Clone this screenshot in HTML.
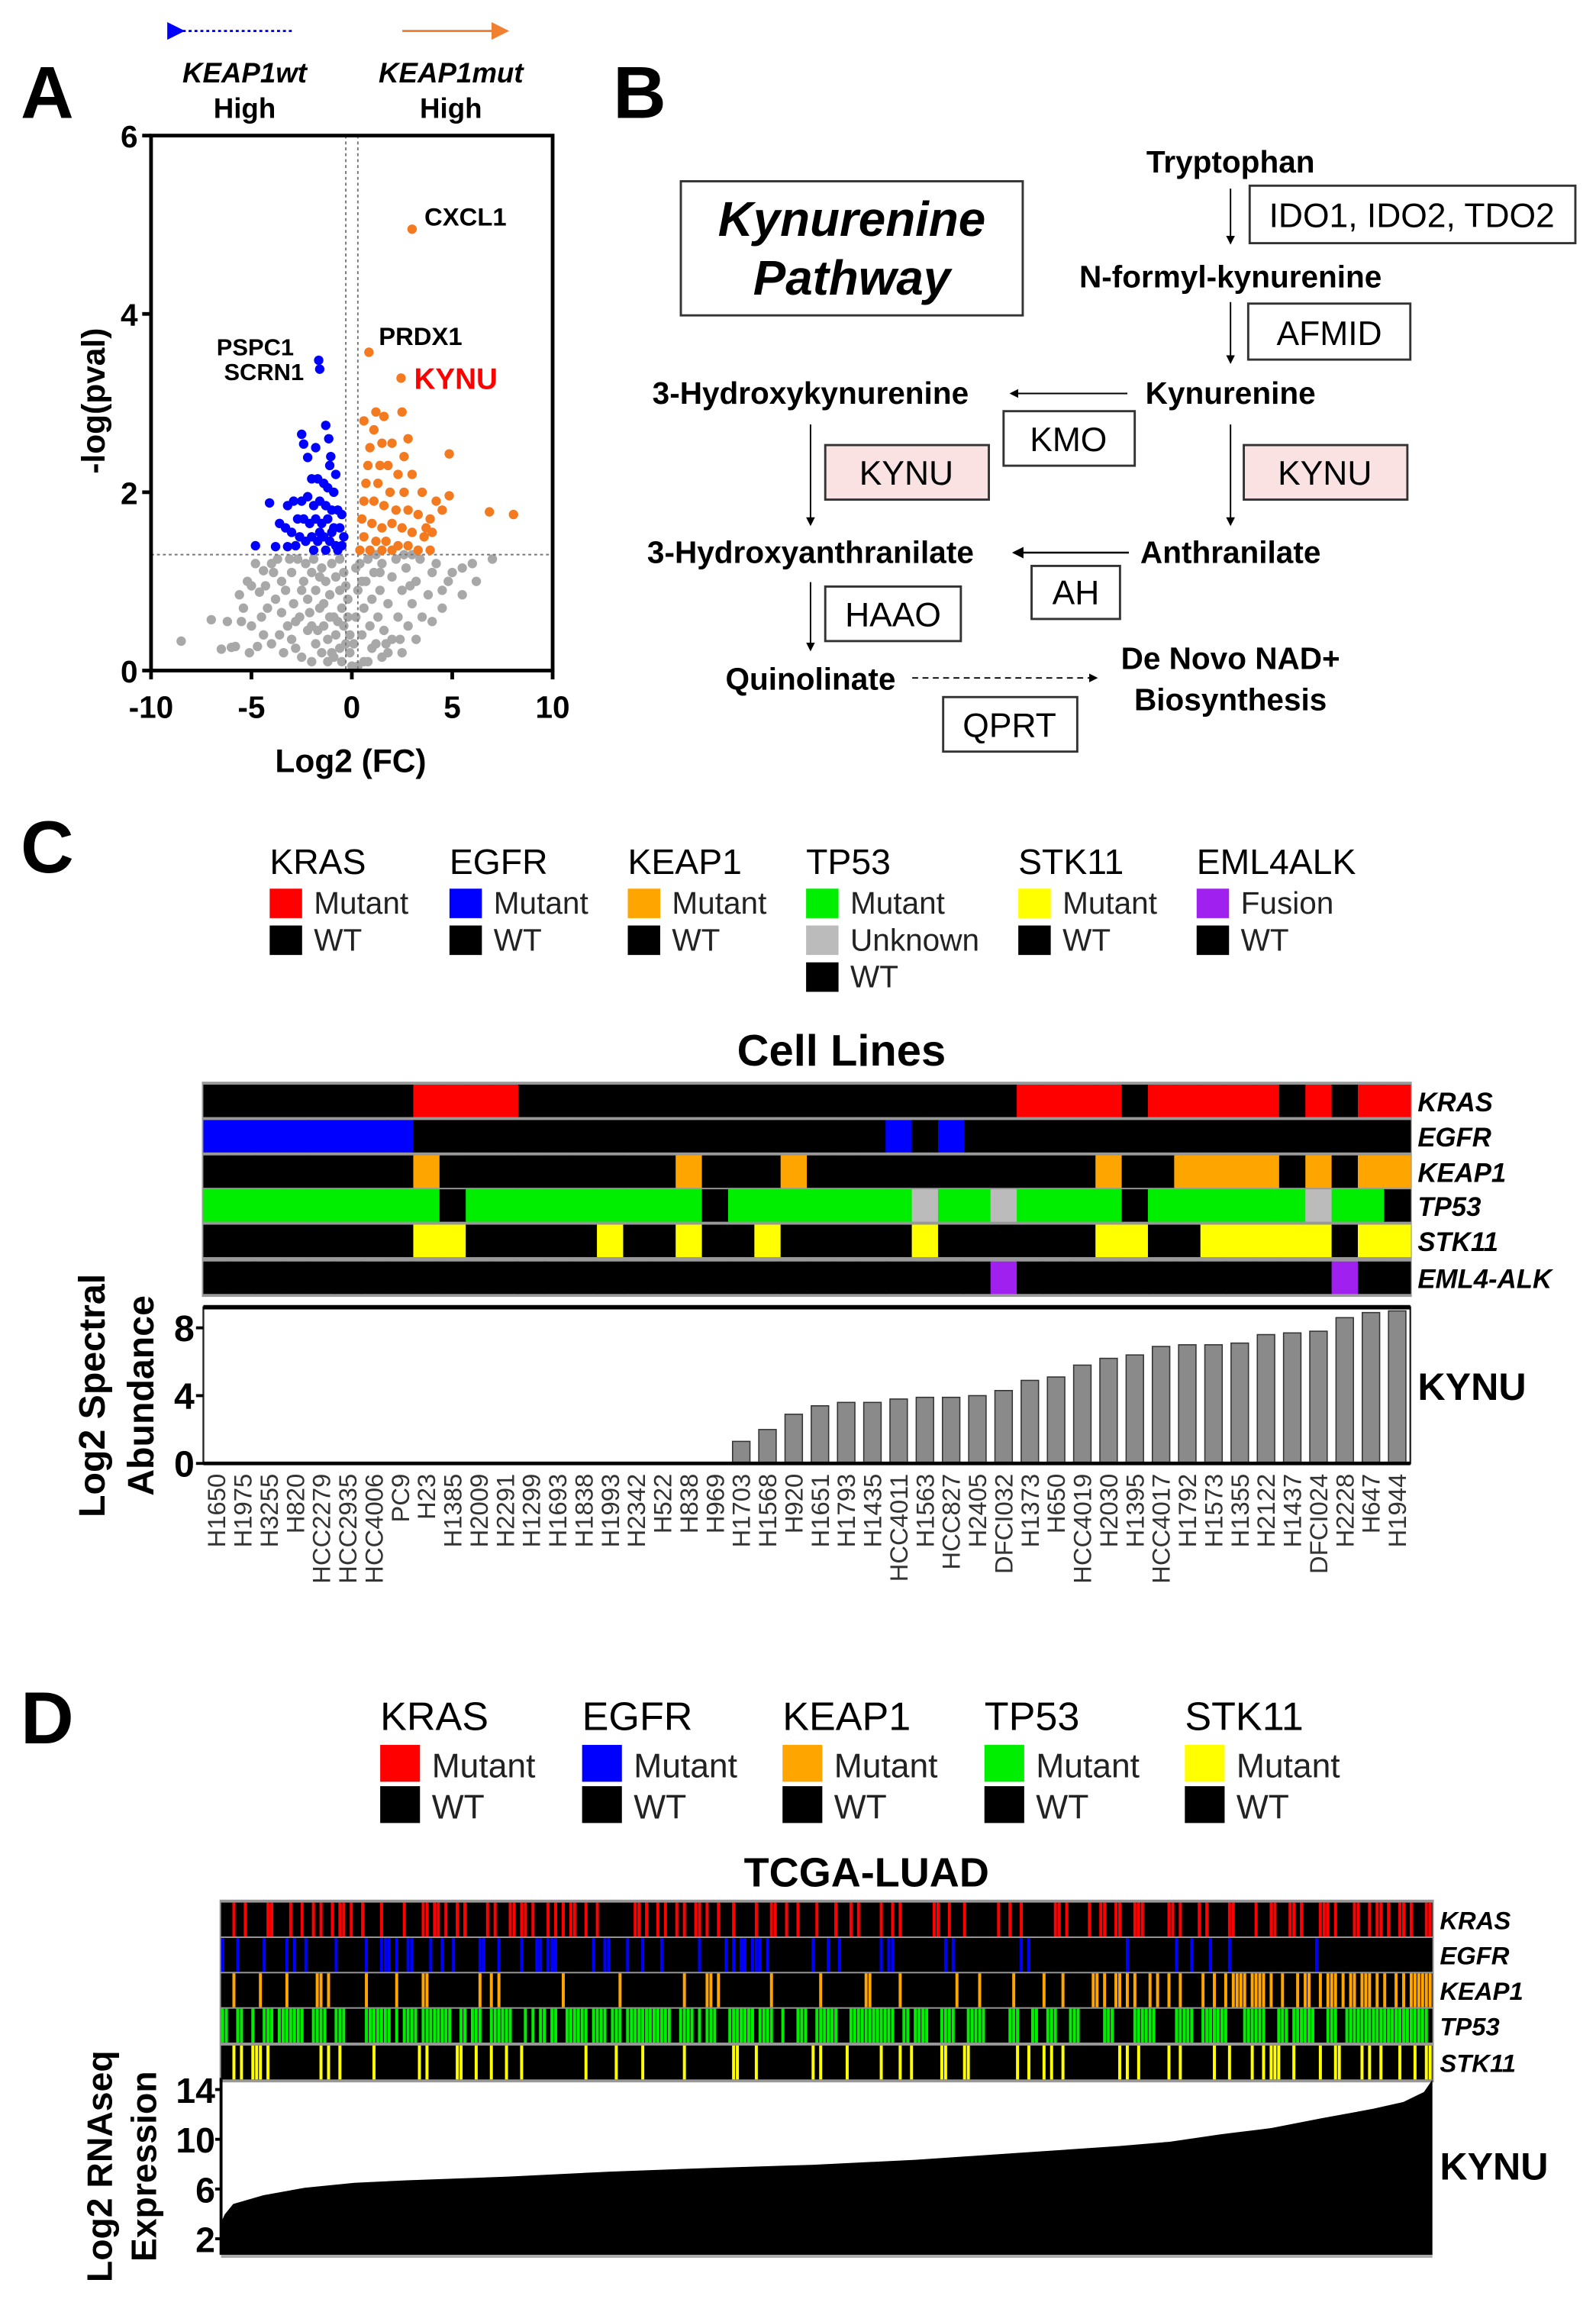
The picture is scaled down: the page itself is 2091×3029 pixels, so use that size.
<!DOCTYPE html>
<html><head><meta charset="utf-8"><title>KYNU figure</title>
<style>
html,body{margin:0;padding:0;background:#fff;}
svg{display:block;}
text{font-family:"Liberation Sans",Arial,sans-serif;}
.b{font-weight:bold;}
</style></head>
<body>
<svg id="fig" width="2091" height="3029" viewBox="0 0 1083 1568.8" preserveAspectRatio="none" xmlns="http://www.w3.org/2000/svg">
<defs>
<marker id="ahB" markerWidth="8" markerHeight="8" refX="1" refY="4" orient="auto"><path d="M8,0 L0,4 L8,8 z" fill="#0000ff"/></marker>
<marker id="ahO" markerWidth="8" markerHeight="8" refX="7" refY="4" orient="auto"><path d="M0,0 L8,4 L0,8 z" fill="#f08030"/></marker>
<marker id="ahK" markerWidth="6" markerHeight="6" refX="5" refY="3" orient="auto"><path d="M0,0 L6,3 L0,6 z" fill="#000"/></marker>
</defs>

<!-- Panel A -->
<text x="14" y="80" font-size="50" class="b">A</text>
<line x1="198" y1="21" x2="124" y2="21" stroke="#0000ff" stroke-width="1.5" stroke-dasharray="2,2" marker-end="url(#ahB)"/>
<line x1="273" y1="21" x2="344" y2="21" stroke="#f08030" stroke-width="1.5" marker-end="url(#ahO)"/>
<text x="166" y="56" font-size="19" class="b" font-style="italic" text-anchor="middle">KEAP1wt</text>
<text x="166" y="80" font-size="19" class="b" text-anchor="middle">High</text>
<text x="306" y="56" font-size="19" class="b" font-style="italic" text-anchor="middle">KEAP1mut</text>
<text x="306" y="80" font-size="19" class="b" text-anchor="middle">High</text>
<g id="volcano"></g>

<!-- Panel B -->
<text x="416" y="80" font-size="50" class="b">B</text>
<g font-size="21">
<rect x="462" y="123" width="232" height="91" fill="none" stroke="#333" stroke-width="1.5"/>
<text x="578" y="160" font-size="33" class="b" font-style="italic" text-anchor="middle">Kynurenine</text>
<text x="578" y="200" font-size="33" class="b" font-style="italic" text-anchor="middle">Pathway</text>
<text x="835" y="117" class="b" text-anchor="middle">Tryptophan</text>
<line x1="835" y1="128" x2="835" y2="165" stroke="#000" marker-end="url(#ahK)"/>
<rect x="848" y="126" width="221" height="39" fill="#fff" stroke="#333" stroke-width="1.5"/>
<text x="958" y="154" font-size="23" text-anchor="middle">IDO1, IDO2, TDO2</text>
<text x="835" y="195" class="b" text-anchor="middle">N-formyl-kynurenine</text>
<line x1="835" y1="205" x2="835" y2="246" stroke="#000" marker-end="url(#ahK)"/>
<rect x="847" y="206" width="110" height="38" fill="#fff" stroke="#333" stroke-width="1.5"/>
<text x="902" y="234" font-size="23" text-anchor="middle">AFMID</text>
<text x="835" y="274" class="b" text-anchor="middle">Kynurenine</text>
<text x="550" y="274" class="b" text-anchor="middle">3-Hydroxykynurenine</text>
<line x1="765" y1="267" x2="686" y2="267" stroke="#000" marker-end="url(#ahK)"/>
<rect x="681" y="279" width="89" height="37" fill="#fff" stroke="#333" stroke-width="1.5"/>
<text x="725" y="306" font-size="23" text-anchor="middle">KMO</text>
<line x1="550" y1="288" x2="550" y2="356" stroke="#000" marker-end="url(#ahK)"/>
<line x1="835" y1="288" x2="835" y2="356" stroke="#000" marker-end="url(#ahK)"/>
<rect x="560" y="302" width="111" height="37" fill="#fbe2e2" stroke="#333" stroke-width="1.5"/>
<text x="615" y="329" font-size="23" text-anchor="middle">KYNU</text>
<rect x="844" y="302" width="111" height="37" fill="#fbe2e2" stroke="#333" stroke-width="1.5"/>
<text x="899" y="329" font-size="23" text-anchor="middle">KYNU</text>
<text x="550" y="382" class="b" text-anchor="middle">3-Hydroxyanthranilate</text>
<text x="835" y="382" class="b" text-anchor="middle">Anthranilate</text>
<line x1="766" y1="375" x2="688" y2="375" stroke="#000" stroke-width="1.3" marker-end="url(#ahK)"/>
<rect x="700" y="384" width="60" height="36" fill="#fff" stroke="#333" stroke-width="1.5"/>
<text x="730" y="410" font-size="23" text-anchor="middle">AH</text>
<line x1="550" y1="395" x2="550" y2="441" stroke="#000" marker-end="url(#ahK)"/>
<rect x="560" y="398" width="92" height="37" fill="#fff" stroke="#333" stroke-width="1.5"/>
<text x="606" y="425" font-size="23" text-anchor="middle">HAAO</text>
<text x="550" y="468" class="b" text-anchor="middle">Quinolinate</text>
<line x1="619" y1="460" x2="744" y2="460" stroke="#000" stroke-dasharray="4,3" marker-end="url(#ahK)"/>
<text x="835" y="454" class="b" text-anchor="middle">De Novo NAD+</text>
<text x="835" y="482" class="b" text-anchor="middle">Biosynthesis</text>
<rect x="640" y="473" width="91" height="37" fill="#fff" stroke="#333" stroke-width="1.5"/>
<text x="685" y="500" font-size="23" text-anchor="middle">QPRT</text>
</g>

<!-- Panel C -->
<text x="14" y="592" font-size="50" class="b">C</text>
<g id="legendC"></g>
<text x="571" y="723" font-size="30" class="b" text-anchor="middle">Cell Lines</text>
<g id="heatC"></g>
<g id="barC"></g>

<!-- Panel D -->
<text x="14" y="1183" font-size="50" class="b">D</text>
<g id="legendD"></g>
<text x="588" y="1280" font-size="28" class="b" text-anchor="middle">TCGA-LUAD</text>
<g id="heatD"></g>
<g id="exprD"></g>
</svg>

<script>
// ===== Panel A data =====
const grayX = [-8.5,-7,-6.5,-5.8,-5.5,-5,-4.5,-4.7,-6,-5.4,-5.2,-5.0,-4.6,-4.8,-4.4,-4.0,-3.9,-3.5,-4.2,-3.8,-3.5,-3.2,-3,-2.8,-3.6,-4.0,-2.5,-2,-3.3,-3.0,-2.7,-2.4,-2.2,-2.6,-2.0,-1.8,-1.5,-1.2,-2.9,-2.3,-2.0,-1.8,-1.6,-1.4,-1.2,-1.0,-1.9,-1.5,-1.3,-1.1,-0.9,-0.8,-0.6,-1.0,-0.8,-0.6,-0.5,-0.4,-0.3,-0.6,-0.4,-0.3,-0.2,-0.2,-0.1,-0.1,0,-5.6,-6.2,-3.1,-3.7,-4.3,-2.1,-1.7,-2.5,-3.4,-4.4,-5.1,0.1,0.2,0.3,0.4,0.5,0.6,0.7,0.8,0.9,1.0,1.1,1.2,1.3,1.4,1.5,1.6,1.8,2.0,2.2,2.0,2.3,2.5,2.7,2.8,3.0,3.2,3.4,3.5,3.8,4.0,4.2,4.5,4.8,5.0,5.5,6.0,7.0,4.0,4.5,3.2,2.5,1.5,0.8,0.3,5.5,6.2,1.2,2.6,3.0,1.8,0.5,0.2,-1.4,-0.9,-2.2,-1.6,-0.7,-2.8,1.0,1.7,2.4,0.6,1.4,2.9,-0.5,-1.1];
const grayY = [0.33,0.57,0.24,0.27,0.55,0.5,0.6,0.27,0.26,0.7,1.0,0.95,0.88,1.2,1.12,1.2,1.1,1.0,0.7,0.8,0.65,0.5,0.35,0.25,0.4,0.3,0.15,0.1,0.9,1.1,1.25,1.0,0.8,0.6,0.5,0.3,0.2,0.1,0.75,1.2,1.1,0.9,0.7,0.5,0.35,0.2,1.25,1.15,1.0,0.85,0.6,0.4,0.25,1.2,1.05,0.9,0.7,0.5,0.3,1.25,1.1,0.95,0.8,0.6,0.4,0.2,0.05,0.85,0.55,1.25,1.25,0.95,0.65,0.45,0.9,0.2,0.4,0.2,0.3,0.6,0.9,1.2,0.4,0.7,1.0,1.25,0.5,0.8,1.1,0.3,0.6,0.9,1.2,0.45,0.75,1.05,1.25,0.35,0.6,0.9,1.15,0.5,0.75,1.0,1.25,0.6,0.85,1.1,1.2,0.9,1.0,1.1,1.15,1.2,1.25,0.55,0.7,0.35,0.2,0.15,0.1,0.05,0.85,1.0,1.3,1.3,1.3,0.2,1.0,1.15,0.75,0.15,0.45,1.05,0.55,0.55,0.25,0.3,0.35,0.1,1.1,0.95,0.1,0.6];
const blueX = [-4.8,-4.1,-3.6,-3.2,-3.8,-3.2,-2.5,-2.4,-2.2,-1.8,-1.3,-1.15,-1.05,-1.65,-1.6,-1.1,-2.0,-1.7,-1.4,-1.2,-0.9,-2.5,-2.2,-1.9,-1.6,-1.3,-1.0,-0.7,-2.7,-2.4,-2.1,-1.8,-1.5,-1.2,-0.9,-0.6,-3.0,-2.6,-2.3,-2.0,-1.7,-1.4,-1.1,-0.8,-0.5,-2.8,-1.9,-1.3,-0.7,-0.4,-0.5,-0.8,-3.3,-2.9,-1.0,-1.6];
const blueY = [1.4,1.88,1.65,1.85,1.39,1.39,2.65,2.54,2.39,2.5,2.75,2.6,2.4,3.48,3.38,2.3,2.15,2.15,2.1,2.05,2.0,1.9,1.95,1.85,1.9,1.85,1.8,1.8,1.7,1.7,1.65,1.7,1.65,1.7,1.6,1.6,1.55,1.5,1.45,1.5,1.45,1.5,1.45,1.4,1.4,1.4,1.35,1.35,1.35,1.5,1.75,2.2,1.6,1.9,1.55,1.55];
const orangeX = [3.0,0.85,2.45,4.85,4.85,6.85,8.05,4.2,4.5,0.6,1.2,1.6,1.1,2.8,1.5,2.0,2.6,0.8,1.8,2.3,3.0,0.7,1.3,1.9,2.6,3.5,0.6,1.1,1.6,2.2,2.8,3.3,3.9,0.5,1.0,1.5,2.0,2.5,3.0,3.6,4.0,0.6,1.2,1.7,2.3,2.8,3.3,3.9,0.4,0.9,1.5,2.0,3.7,1.4,2.5,0.9];
const orangeY = [4.95,3.57,3.28,2.43,1.96,1.78,1.75,1.9,1.8,2.8,2.9,2.85,2.7,2.6,2.55,2.55,2.4,2.3,2.3,2.2,2.2,2.1,2.1,2.0,2.0,2.0,1.9,1.9,1.85,1.8,1.8,1.75,1.7,1.7,1.65,1.6,1.65,1.6,1.55,1.5,1.55,1.5,1.45,1.45,1.4,1.4,1.35,1.35,1.35,1.35,1.35,1.35,1.6,2.3,2.9,2.5];
const xTicksA = [-10,-5,0,5,10];
const yTicksA = [0,2,4,6];

// ===== Panel C data =====
const cellLines = ["H1650","H1975","H3255","H820","HCC2279","HCC2935","HCC4006","PC9","H23","H1385","H2009","H2291","H1299","H1693","H1838","H1993","H2342","H522","H838","H969","H1703","H1568","H920","H1651","H1793","H1435","HCC4011","H1563","HCC827","H2405","DFCI032","H1373","H650","HCC4019","H2030","H1395","HCC4017","H1792","H1573","H1355","H2122","H1437","DFCI024","H2228","H647","H1944"];
const kynuCell = [0,0,0,0,0,0,0,0,0,0,0,0,0,0,0,0,0,0,0,0,1.3,2.0,2.9,3.4,3.6,3.6,3.8,3.9,3.9,4.0,4.3,4.9,5.1,5.8,6.2,6.4,6.9,7.0,7.0,7.1,7.6,7.7,7.8,8.6,8.9,9.0];
const krasC  = [0,0,0,0,0,0,0,0,1,1,1,1,0,0,0,0,0,0,0,0,0,0,0,0,0,0,0,0,0,0,0,1,1,1,1,0,1,1,1,1,1,0,1,0,1,1];
const egfrC  = [1,1,1,1,1,1,1,1,0,0,0,0,0,0,0,0,0,0,0,0,0,0,0,0,0,0,1,0,1,0,0,0,0,0,0,0,0,0,0,0,0,0,0,0,0,0];
const keap1C = [0,0,0,0,0,0,0,0,1,0,0,0,0,0,0,0,0,0,1,0,0,0,1,0,0,0,0,0,0,0,0,0,0,0,1,0,0,1,1,1,1,0,1,0,1,1];
const tp53C  = [1,1,1,1,1,1,1,1,1,0,1,1,1,1,1,1,1,1,1,0,1,1,1,1,1,1,1,2,1,1,2,1,1,1,1,0,1,1,1,1,1,1,2,1,1,0];
const stk11C = [0,0,0,0,0,0,0,0,1,1,0,0,0,0,0,1,0,0,1,0,0,1,0,0,0,0,0,1,0,0,0,0,0,0,1,1,0,0,1,1,1,1,1,0,1,1];
const alkC   = [0,0,0,0,0,0,0,0,0,0,0,0,0,0,0,0,0,0,0,0,0,0,0,0,0,0,0,0,0,0,1,0,0,0,0,0,0,0,0,0,0,0,0,1,0,0];
const yTicksC = [0,4,8];

// ===== Panel D data =====
const nTCGA = 320;
const krasD = [3,6,12,13,18,21,24,26,29,31,32,34,37,42,48,53,54,56,57,59,62,64,70,72,76,77,79,80,82,86,88,90,92,93,96,99,109,110,112,115,117,120,122,125,126,128,131,135,141,145,146,149,152,157,162,166,168,174,177,179,188,189,192,196,205,208,211,220,221,223,229,232,233,236,237,241,242,243,250,251,253,258,260,266,267,273,277,278,282,283,285,290,291,292,294,299,300,303,305,306,308,311,312,314,318,319];
const egfrD = [0,4,11,17,19,22,30,38,42,43,44,46,49,50,55,58,61,68,69,73,79,83,84,86,87,88,98,101,102,107,111,116,126,133,135,137,138,140,141,142,144,156,160,163,174,176,177,191,193,211,213,239,252,256,261,266,289];
const keap1D = [3,10,17,25,26,28,38,46,53,54,68,71,73,90,105,122,128,129,131,145,158,170,171,179,194,200,209,217,222,230,231,233,236,237,239,241,245,247,250,253,259,262,265,267,268,269,270,272,273,274,275,277,280,284,286,287,290,292,293,294,296,298,299,301,302,303,305,307,310,312,314,315,316,317,318,319];
const tp53Start = [0,4,8,11,15,18,24,30,38,46,48,53,63,66,71,80,82,84,87,91,98,103,107,121,126,128,129,134,142,148,152,157,166,172,180,183,190,197,208,214,218,224,233,241,252,259,270,279,283,292,297];
const tp53End   = [1,5,8,13,17,21,27,32,44,46,51,60,64,68,76,80,82,85,88,96,101,105,118,124,126,128,130,140,145,148,154,162,177,175,181,186,193,201,210,215,220,226,235,246,256,265,275,281,288,294,318];
const stk11D = [3,5,8,9,10,12,26,28,31,40,52,54,62,63,67,71,75,79,96,104,111,122,135,136,141,156,158,165,174,179,182,190,191,196,197,210,213,217,219,222,237,239,242,250,253,262,266,272,275,277,278,279,283,290,294,295,301,303,306,311,315,318,319];
const exprRank = [0,0.003,0.01,0.035,0.069,0.11,0.153,0.237,0.321,0.405,0.489,0.573,0.657,0.741,0.783,0.825,0.867,0.909,0.951,0.976,0.993,1];
const exprVal  = [3.3,3.95,4.8,5.5,6.1,6.5,6.7,7.0,7.4,7.7,7.95,8.35,8.9,9.45,9.8,10.4,10.9,11.7,12.45,13.0,13.8,14.8];
const yTicksD = [2,6,10,14];

const NS = "http://www.w3.org/2000/svg";
function el(tag, parent, attrs){ const e=document.createElementNS(NS,tag); for(const k in attrs) e.setAttribute(k,attrs[k]); parent.appendChild(e); return e; }

// ===== Panel A =====
(function(){
  const g = document.getElementById('volcano');
  const X0=102.5, X1=375, Y0=455, Y1=92;
  const sx = v => X0 + (v+10)/20*(X1-X0);
  const sy = v => Y0 - v/6*(Y0-Y1);
  const pts = (xs, ys, col, name) => { for(let i=0;i<xs.length;i++){ const c=el('circle',g,{cx:sx(xs[i]),cy:sy(ys[i]),r:3.2,fill:col});
    
     } };
  pts(grayX, grayY, '#a8a8a8', 'gray-point');
  const dl = el('line',g,{x1:X0,x2:X1,y1:sy(1.3),y2:sy(1.3),stroke:'#777','stroke-dasharray':'2,2','stroke-width':1});
  
  
  [-0.3,0.3].forEach(v=>{ const l=el('line',g,{x1:sx(v),x2:sx(v),y1:Y1,y2:Y0,stroke:'#777','stroke-dasharray':'2,2','stroke-width':1});
    
     });
  pts(blueX, blueY, '#0000ff', 'blue-point');
  pts(orangeX, orangeY, '#f47a20', 'orange-point');
  const fr = el('rect',g,{x:X0,y:Y1,width:X1-X0,height:Y0-Y1,fill:'none',stroke:'#000','stroke-width':2.5});
  
  
  xTicksA.forEach(v=>{ el('line',g,{x1:sx(v),x2:sx(v),y1:Y0,y2:Y0+6,stroke:'#000','stroke-width':2.5});
    const t=el('text',g,{x:sx(v),y:487,'font-size':21,'font-weight':'bold','text-anchor':'middle'}); t.textContent=v;
    
     });
  yTicksA.forEach(v=>{ el('line',g,{x1:X0-6,x2:X0,y1:sy(v),y2:sy(v),stroke:'#000','stroke-width':2.5});
    const t=el('text',g,{x:X0-9,y:sy(v)+8,'font-size':21,'font-weight':'bold','text-anchor':'end'}); t.textContent=v;
    
     });
  const xt=el('text',g,{x:238,y:524,'font-size':22,'font-weight':'bold','text-anchor':'middle'}); xt.textContent='Log2 (FC)';
  
  
  const yt=el('text',g,{x:0,y:0,'font-size':22,'font-weight':'bold','text-anchor':'middle',transform:'translate(71,272) rotate(-90)'}); yt.textContent='-log(pval)';
  
  
  const labs=[['CXCL1',288,153,'#000',17],['PRDX1',257,234,'#000',17],['KYNU',281,264,'#ff0000',20],['PSPC1',147,241,'#000',16],['SCRN1',152,258,'#000',16]];
  labs.forEach(a=>{ const t=el('text',g,{x:a[1],y:a[2],fill:a[3],'font-size':a[4],'font-weight':'bold'}); t.textContent=a[0];
    
     });
})();

// ===== legends =====
function legend(gid, groups, x0s, hy, sq, rowY, fs, hfs){
  const g=document.getElementById(gid);
  groups.forEach((grp,i)=>{
    const h=el('text',g,{x:x0s[i],y:hy,'font-size':hfs}); h.textContent=grp[0];
    
    
    grp[1].forEach((it,j)=>{
      const r=el('rect',g,{x:x0s[i],y:rowY[j],width:sq,height:sq-2,fill:it[1]});
      
      
      const t=el('text',g,{x:x0s[i]+sq+8,y:rowY[j]+sq-5,'font-size':fs,fill:'#222'}); t.textContent=it[0];
      
      
    });
  });
}
legend('legendC',[
  ['KRAS',[['Mutant','#ff0000'],['WT','#000']]],
  ['EGFR',[['Mutant','#0000ff'],['WT','#000']]],
  ['KEAP1',[['Mutant','#ffa500'],['WT','#000']]],
  ['TP53',[['Mutant','#00ee00'],['Unknown','#bbbbbb'],['WT','#000']]],
  ['STK11',[['Mutant','#ffff00'],['WT','#000']]],
  ['EML4ALK',[['Fusion','#a020f0'],['WT','#000']]]
],[183,305,426,547,691,812],593,22,[603,628,653],21,24);
legend('legendD',[
  ['KRAS',[['Mutant','#ff0000'],['WT','#000']]],
  ['EGFR',[['Mutant','#0000ff'],['WT','#000']]],
  ['KEAP1',[['Mutant','#ffa500'],['WT','#000']]],
  ['TP53',[['Mutant','#00ee00'],['WT','#000']]],
  ['STK11',[['Mutant','#ffff00'],['WT','#000']]]
],[258,395,531,668,804],1174,27,[1184,1212],23,27);

// ===== Panel C heatmap & bars =====
(function(){
  const g=document.getElementById('heatC');
  const X0=138, X1=957, n=cellLines.length, cw=(X1-X0)/n;
  const rows=[['KRAS',krasC,['#000','#ff0000']],['EGFR',egfrC,['#000','#0000ff']],['KEAP1',keap1C,['#000','#ffa500']],['TP53',tp53C,['#000','#00ee00','#bbbbbb']],['STK11',stk11C,['#000','#ffff00']],['EML4-ALK',alkC,['#000','#a020f0']]];
  const rowTop=[736,760,784,807,831,856], rh=22;
  el('rect',g,{x:X0-1,y:734,width:X1-X0+2,height:146,fill:'#999'});
  rows.forEach((r,ri)=>{
    for(let i=0;i<n;i++){
      const c=el('rect',g,{x:X0+i*cw,y:rowTop[ri],width:cw+0.4,height:rh,fill:r[2][r[1][i]]});
      
      
    }
    const t=el('text',g,{x:962,y:rowTop[ri]+18,'font-size':18,'font-weight':'bold','font-style':'italic'}); t.textContent=r[0];
    
    
  });
  const b=document.getElementById('barC');
  const Y0=993, unit=11.5, sy=v=>Y0-v*unit;
  el('rect',b,{x:X0,y:887,width:X1-X0,height:Y0-887,fill:'#fff',stroke:'#222','stroke-width':1.2});
  el('line',b,{x1:X0,x2:X1,y1:887,y2:887,stroke:'#000','stroke-width':3});
  kynuCell.forEach((v,i)=>{ if(v<=0) return;
    const r=el('rect',b,{x:X0+i*cw+3,y:sy(v),width:cw-6,height:v*unit,fill:'#8a8a8a',stroke:'#333','stroke-width':0.8});
    
     });
  el('line',b,{x1:X0,x2:X1,y1:Y0,y2:Y0,stroke:'#000','stroke-width':2.5});
  yTicksC.forEach(v=>{ el('line',b,{x1:X0-5,x2:X0,y1:sy(v),y2:sy(v),stroke:'#000','stroke-width':2});
    const t=el('text',b,{x:X0-6,y:sy(v)+9,'font-size':25,'font-weight':'bold','text-anchor':'end'}); t.textContent=v;
    
     });
  const yt1=el('text',b,{'font-size':25,'font-weight':'bold','text-anchor':'middle',transform:'translate(71,947) rotate(-90)'}); yt1.textContent='Log2 Spectral';
  
  
  const yt2=el('text',b,{'font-size':25,'font-weight':'bold','text-anchor':'middle',transform:'translate(104,947) rotate(-90)'}); yt2.textContent='Abundance';
  
  
  const k=el('text',b,{x:962,y:950,'font-size':26,'font-weight':'bold'}); k.textContent='KYNU';
  
  
  cellLines.forEach((c,i)=>{ const t=el('text',b,{'font-size':17,'text-anchor':'end',fill:'#333',transform:`translate(${X0+i*cw+cw/2+6},1000) rotate(-90)`}); t.textContent=c;
    
     });
})();

// ===== Panel D =====
(function(){
  const g=document.getElementById('heatD');
  const X0=150, X1=972, cw=(X1-X0)/nTCGA;
  const rowTop=[1291,1315,1339,1363,1388], rh=23;
  el('rect',g,{x:X0-1,y:1289,width:X1-X0+2,height:124,fill:'#999'});
  const tp53D=[]; tp53Start.forEach((s,i)=>{ for(let j=s;j<=tp53End[i];j++) tp53D.push(j); });
  const rows=[['KRAS',krasD,'#ff0000'],['EGFR',egfrD,'#0000ff'],['KEAP1',keap1D,'#ffa500'],['TP53',tp53D,'#00ee00'],['STK11',stk11D,'#ffff00']];
  rows.forEach((r,ri)=>{
    const bg=el('rect',g,{x:X0,y:rowTop[ri],width:X1-X0,height:rh,fill:'#000'});
    
    
    r[1].forEach(i=>{ const s=el('rect',g,{x:X0+i*cw,y:rowTop[ri],width:cw*0.8,height:rh,fill:r[2]});
      
       });
    const t=el('text',g,{x:977,y:rowTop[ri]+18,'font-size':17,'font-weight':'bold','font-style':'italic'}); t.textContent=r[0];
    
    
  });
  const e=document.getElementById('exprD');
  const B=1530, sy=v=>1536-v*8.44, sx=f=>X0+f*(X1-X0);
  let d=`M${sx(0)},${B}`;
  exprRank.forEach((f,i)=>{ d+=` L${sx(f)},${sy(exprVal[i])}`; });
  d+=` L${sx(1)},${B} Z`;
  const p=el('path',e,{d:d,fill:'#000'});
  
  
  el('line',e,{x1:X0,x2:X0,y1:1410,y2:B,stroke:'#000','stroke-width':2});
  el('line',e,{x1:X0,x2:X1,y1:B+1,y2:B+1,stroke:'#aaa','stroke-width':2});
  yTicksD.forEach(v=>{ el('line',e,{x1:X0-4,x2:X0,y1:sy(v),y2:sy(v),stroke:'#000','stroke-width':2});
    const t=el('text',e,{x:X0-4,y:sy(v)+9,'font-size':24,'font-weight':'bold','text-anchor':'end'}); t.textContent=v;
    
     });
  const y1=el('text',e,{'font-size':24,'font-weight':'bold','text-anchor':'middle',transform:'translate(76,1470) rotate(-90)'}); y1.textContent='Log2 RNAseq';
  
  
  const y2=el('text',e,{'font-size':24,'font-weight':'bold','text-anchor':'middle',transform:'translate(106,1470) rotate(-90)'}); y2.textContent='Expression';
  
  
  const k=el('text',e,{x:977,y:1479,'font-size':26,'font-weight':'bold'}); k.textContent='KYNU';
  
  
})();
</script>
</body></html>
